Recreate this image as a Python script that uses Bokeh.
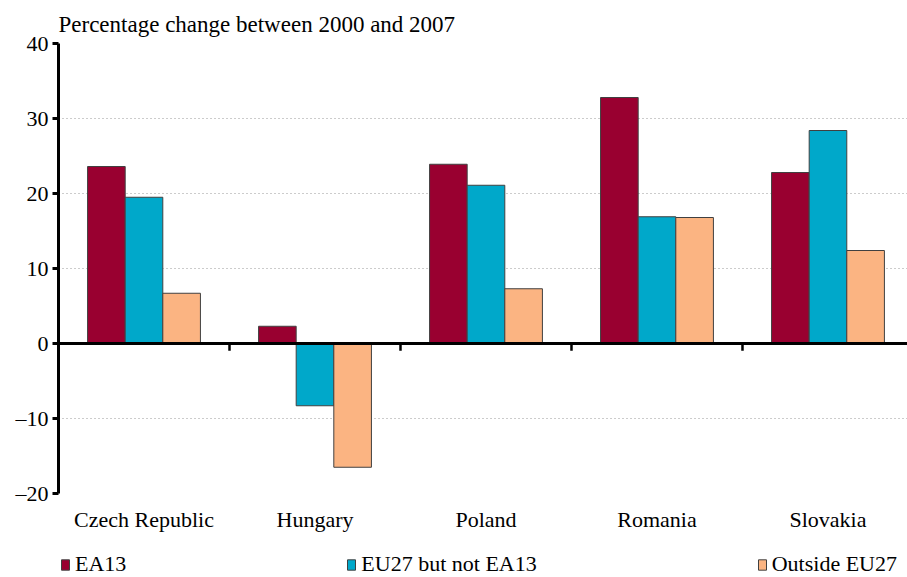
from bokeh.plotting import figure
from bokeh.models import (Range1d, FixedTicker, Span, Legend, LegendItem,
                          ColumnDataSource)
from bokeh.layouts import column
from bokeh.embed import file_html
from bokeh.resources import INLINE

countries = ["Czech Republic", "Hungary", "Poland", "Romania", "Slovakia"]
series = ["EA13", "EU27 but not EA13", "Outside EU27"]
ea13 = [23.6, 2.3, 23.9, 32.8, 22.8]
eu27_not_ea13 = [19.5, -8.3, 21.1, 16.9, 28.4]
outside_eu27 = [6.7, -16.5, 7.3, 16.8, 12.4]
colors = ["#990030", "#00A8CA", "#FBB482"]
y_ticks = [-20, -10, 0, 10, 20, 30, 40]

FONT = "Liberation Serif"
FS = "22px"
n = len(countries)
bw = 0.22

p = figure(width=907, height=534, output_backend="svg",
           toolbar_location=None,
           x_range=Range1d(0, 4.965), y_range=Range1d(-20, 40),
           min_border_left=58, min_border_right=0, min_border_top=43,
           min_border_bottom=41)
p.title.text = "Percentage change between 2000 and 2007"
p.title.text_font = FONT
p.title.text_font_size = "23px"
p.title.text_font_style = "normal"
p.title.text_color = "black"
p.title.align = "left"
p.title.offset = 0
p.title.standoff = 13
p.outline_line_color = None
p.background_fill_color = "white"
p.border_fill_color = "white"

sources = []
for k, (vals, col) in enumerate(zip([ea13, eu27_not_ea13, outside_eu27], colors)):
    xs = [i + 0.5 + (k - 1) * bw for i in range(n)]
    src = ColumnDataSource(dict(x=xs, top=vals))
    sources.append(src)
    p.vbar(x="x", top="top", bottom=0, width=bw, source=src,
           fill_color=col, line_color="#404040", line_width=1)

# zero line
p.add_layout(Span(location=0, dimension="width", line_color="black",
                  line_width=3))
# group boundary ticks below zero line
bx = [float(i) for i in range(1, n)]
p.segment(x0=bx, x1=bx, y0=[0] * len(bx), y1=[-0.95] * len(bx),
          line_color="black", line_width=2.5)

# y axis
ya = p.yaxis[0]
ya.ticker = FixedTicker(ticks=y_ticks)
ya.major_label_overrides = {t: (str(t).replace("-", "\u2013")) for t in y_ticks}
ya.axis_line_width = 3
ya.axis_line_color = "black"
ya.major_tick_line_width = 3
ya.major_tick_in = 0
ya.major_tick_out = 6
ya.minor_tick_line_color = None
ya.major_label_text_font = FONT
ya.major_label_text_font_size = FS
ya.major_label_text_color = "black"
ya.major_label_standoff = 4

# x axis
xa = p.xaxis[0]
xa.ticker = FixedTicker(ticks=[i + 0.5 for i in range(n)])
xa.major_label_overrides = {i + 0.5: c for i, c in enumerate(countries)}
xa.axis_line_color = None
xa.major_tick_line_color = None
xa.minor_tick_line_color = None
xa.major_label_text_font = FONT
xa.major_label_text_font_size = FS
xa.major_label_text_color = "black"
xa.major_label_standoff = 7

p.xgrid.grid_line_color = None
p.ygrid.ticker = FixedTicker(ticks=y_ticks)
p.ygrid.grid_line_color = "#999999"
p.ygrid.grid_line_dash = "1 3"
p.ygrid.grid_line_width = 1

# legend strip (bars kept out of its visible range; only the legend shows)
q = figure(width=907, height=43, output_backend="svg", toolbar_location=None,
           x_range=Range1d(100, 101), y_range=Range1d(100, 101),
           x_axis_type=None, y_axis_type=None,
           min_border_left=0, min_border_right=0, min_border_top=0,
           min_border_bottom=0)
q.outline_line_color = None
q.xgrid.grid_line_color = None
q.ygrid.grid_line_color = None
leg_r = []
for src, col in zip(sources, colors):
    leg_r.append(q.vbar(x="x", top="top", bottom=0, width=bw, source=src,
                        fill_color=col, line_color="#404040", line_width=1))

legend = Legend(items=[LegendItem(label=s, renderers=[r]) for s, r in zip(series, leg_r)],
                orientation="horizontal", location=(2, 0),
                label_text_font=FONT, label_text_font_size=FS,
                label_text_color="black", glyph_width=10, glyph_height=13,
                spacing=220, padding=0, margin=0, label_standoff=5,
                border_line_color=None, background_fill_alpha=0)
q.add_layout(legend, "center")

open("out.html", "w").write(file_html(column(p, q, spacing=0), INLINE))
